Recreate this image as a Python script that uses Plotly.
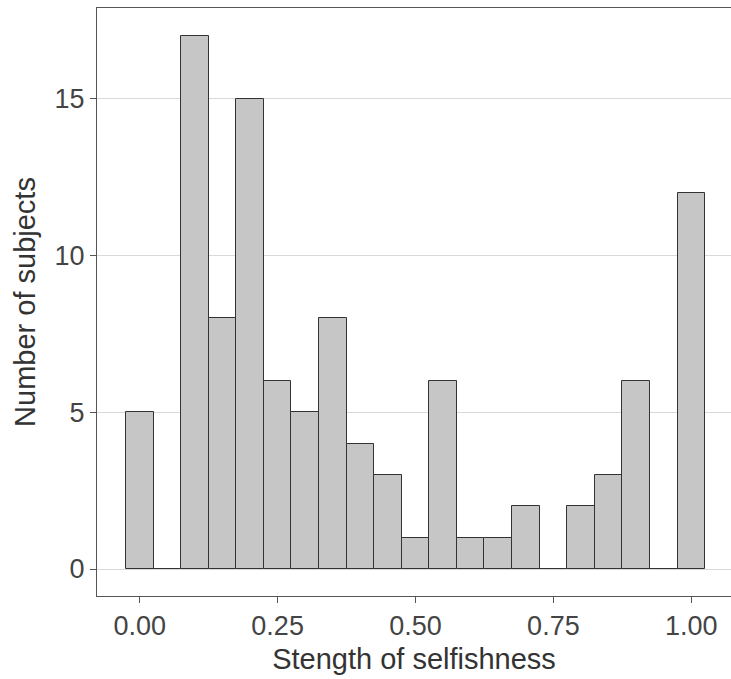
import plotly.graph_objects as go

bin_centers = [0.00, 0.05, 0.10, 0.15, 0.20, 0.25, 0.30, 0.35, 0.40, 0.45, 0.50,
               0.55, 0.60, 0.65, 0.70, 0.75, 0.80, 0.85, 0.90, 0.95, 1.00]
counts = [5, 0, 17, 8, 15, 6, 5, 8, 4, 3, 1, 6, 1, 1, 2, 0, 2, 3, 6, 0, 12]
bin_width = 0.05
x_ticks = [0.0, 0.25, 0.5, 0.75, 1.0]
x_ticklabels = ["0.00", "0.25", "0.50", "0.75", "1.00"]
y_ticks = [0, 5, 10, 15]

fig = go.Figure()
fig.add_trace(go.Bar(
    x=bin_centers, y=counts, width=bin_width,
    marker=dict(color="#C6C6C6", line=dict(color="#333333", width=1)),
))

font_family = "Liberation Sans, Arial, sans-serif"
fig.update_layout(
    width=731, height=679,
    margin=dict(l=97, r=0, t=8, b=83),
    paper_bgcolor="white", plot_bgcolor="white",
    showlegend=False,
    font=dict(family=font_family, color="#333333"),
    bargap=0,
)
fig.update_xaxes(
    range=[-0.0775, 1.072],
    tickvals=x_ticks, ticktext=x_ticklabels,
    tickfont=dict(size=27, color="#444444"),
    ticks="outside", ticklen=6, tickcolor="#555555",
    showgrid=False, zeroline=False,
    showline=True, linecolor="#555555", linewidth=1, mirror=True,
    title=dict(text="Stength of selfishness", font=dict(size=29, color="#333333"), standoff=8),
)
fig.update_yaxes(
    range=[-0.86, 17.9],
    tickvals=y_ticks,
    tickfont=dict(size=27, color="#444444"),
    ticks="outside", ticklen=6, tickcolor="#555555",
    showgrid=True, gridcolor="#D9D9D9", gridwidth=1, zeroline=False,
    showline=True, linecolor="#555555", linewidth=1, mirror=False,
    title=dict(text="Number of subjects", font=dict(size=29, color="#333333"), standoff=10),
)

fig.write_html("out.html")
